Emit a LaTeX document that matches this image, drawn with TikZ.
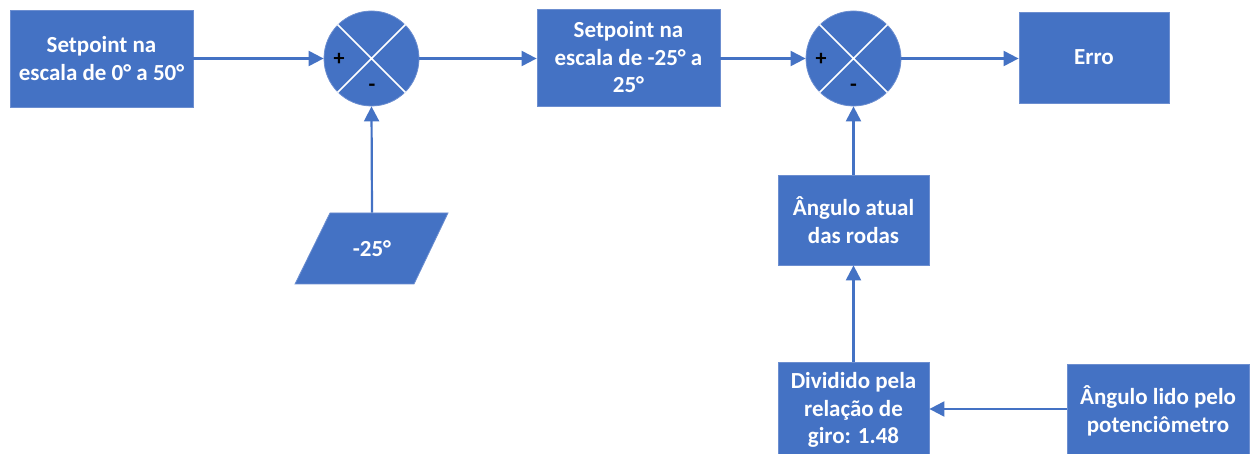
\documentclass[tikz,border=0pt]{standalone}
\usepackage{fontspec}
\setmainfont{Carlito}
\usetikzlibrary{arrows.meta}
\definecolor{blk}{HTML}{4472C4}
\definecolor{blkedge}{HTML}{6C8ED0}
\tikzset{
  block/.style={fill=blk, draw=blkedge, line width=0.8bp, text=white,
    font=\fontsize{23bp}{27.5bp}\selectfont\bfseries, align=center,
    inner sep=0pt},
  sumnode/.style={circle, fill=blk, draw=blkedge, line width=0.8bp,
    minimum size=95bp, inner sep=0pt},
  sign/.style={font=\fontsize{22bp}{22bp}\selectfont\bfseries, text=black, inner sep=0pt},
  flow/.style={draw=blk, line width=2.2bp, -{Triangle[length=15bp,width=15bp]}},
}
\begin{document}
\begin{tikzpicture}[x=1bp,y=-1bp]
\useasboundingbox (0,0) rectangle (1256,454);
\begin{scope}
\clip (0,0) rectangle (1256,454);

% blocks
\node[block, minimum width=183bp, minimum height=97bp] (sp) at (101.5,58.5)
  {Setpoint na\\escala de 0° a 50°};
\node[block, minimum width=183bp, minimum height=97bp] (sp2) at (628.5,57.5)
  {Setpoint na\\escala de -25° a\\25°};
\node[block, minimum width=150bp, minimum height=91bp] (erro) at (1094,57.5) {Erro};
\node[block, minimum width=151bp, minimum height=90bp] (atual) at (853.5,220)
  {Ângulo atual\\das rodas};
\node[block, minimum width=151bp, minimum height=96bp] (div) at (853.5,410)
  {Dividido pela\\relação de\\giro: 1.48};
\node[block, minimum width=182bp, minimum height=94bp] (lido) at (1158,411)
  {Ângulo lido pelo\\potenciômetro};

% constant input as a parallelogram
\fill[blk, draw=blkedge, line width=0.8bp] (330,213) -- (448,213) -- (414,284) -- (295,284) -- cycle;
\node[block, fill=none, draw=none, minimum width=84bp, minimum height=71bp] (ref) at (372,248.5) {-25°};

% summing junctions
\foreach \s/\cx in {s1/371.5, s2/853.5} {
  \node[sumnode] (\s) at (\cx,58.5) {};
  \draw[white, line width=1.6bp] (\s.north west) -- (\s.south east)
                                  (\s.north east) -- (\s.south west);
}
\node[sign] at (339,59) {+};
\node[sign] at (372,88) {-};
\node[sign] at (821,59) {+};
\node[sign] at (853.5,88) {-};

% connectors
\draw[flow] (sp.east) -- (s1.west);
\draw[flow] (ref.north) -- (s1.south);
\draw[flow] (s1.east) -- (sp2.west |- s1.east);
\draw[flow] (sp2.east |- s2.west) -- (s2.west);
\draw[flow] (s2.east) -- (erro.west |- s2.east);
\draw[flow] (atual.north) -- (s2.south);
\draw[flow] (div.north) -- (atual.south);
\draw[flow] (lido.west |- 0,409) -- (div.east |- 0,409);
\end{scope}
\end{tikzpicture}
\end{document}
